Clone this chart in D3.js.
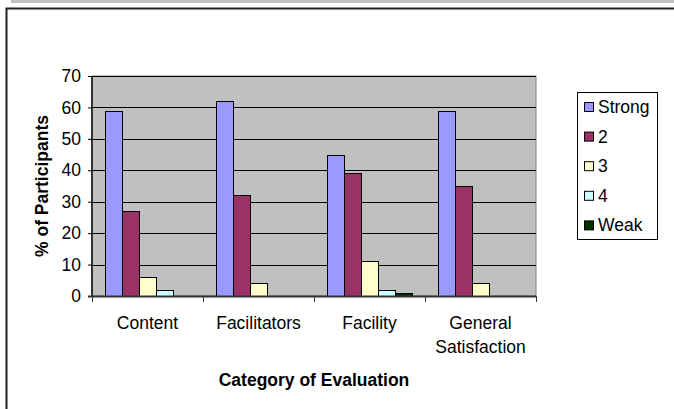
<!DOCTYPE html>
<html>
<head>
<meta charset="utf-8">
<script src="https://cdn.jsdelivr.net/npm/d3@7"></script>
<style>
  body { margin: 0; background: #fff; }
  svg { display: block; font-family: "Liberation Sans", Arial, sans-serif; }
</style>
</head>
<body>
<div id="chart"></div>
<script>
var categories = ['Content', 'Facilitators', 'Facility', 'General Satisfaction'];
var series = ['Strong', '2', '3', '4', 'Weak'];
var strong = [59, 62, 45, 59];
var two = [27, 32, 39, 35];
var three = [6, 4, 11, 4];
var four = [2, 0, 2, 0];
var weak = [0, 0, 1, 0];
var yTicks = [0, 10, 20, 30, 40, 50, 60, 70];
var colors = ['#9999ff', '#993366', '#ffffcc', '#ccffff', '#003300'];

var values = [strong, two, three, four, weak];

var width = 674,
    height = 409;
var plot = {left: 92, right: 536, top: 76, bottom: 296};
var fs = 17.5;

var svg = d3.select('#chart')
    .append('svg')
    .attr('width', width)
    .attr('height', height);

// outer frame
svg.append('rect').attr('x', 11).attr('y', 0).attr('width', 663).attr('height', 3).attr('fill', '#c0c0c0');
svg.append('path').attr('d', 'M6.5,409V8.5H674').attr('fill', 'none').attr('stroke', '#222').attr('stroke-width', 2);

var x0 = d3.scaleBand()
    .domain(categories)
    .range([plot.left, plot.right])
    .paddingInner(0)
    .paddingOuter(0);

var x1 = d3.scaleBand()
    .domain(series)
    .range([0, x0.bandwidth()])
    .paddingOuter(0.75)
    .paddingInner(0);

var y = d3.scaleLinear()
    .domain([0, 70])
    .range([plot.bottom, plot.top]);

svg.append('rect')
    .attr('x', plot.left).attr('y', plot.top)
    .attr('width', plot.right - plot.left).attr('height', plot.bottom - plot.top)
    .attr('fill', '#c0c0c0')
    .attr('stroke', '#808080');

// gridlines
svg.append('g').selectAll('line')
    .data(yTicks.filter(function(d) { return d > 0; }))
    .enter().append('line')
    .attr('x1', plot.left).attr('x2', plot.right)
    .attr('y1', function(d) { return Math.round(y(d)) + 0.5; })
    .attr('y2', function(d) { return Math.round(y(d)) + 0.5; })
    .attr('stroke', '#000');

// bars
var rows = [];
categories.forEach(function(c, i) {
    series.forEach(function(s, j) {
        rows.push({cat: c, s: s, v: values[j][i], color: colors[j]});
    });
});

svg.append('g').selectAll('rect')
    .data(rows.filter(function(d) { return d.v > 0; }))
    .enter().append('rect')
    .attr('x', function(d) { return Math.round(x0(d.cat) + x1(d.s)) + 0.5; })
    .attr('y', function(d) { return Math.round(y(d.v)) + 0.5; })
    .attr('width', function(d) { return Math.round(x1.bandwidth()); })
    .attr('height', function(d) { return Math.round(y(0)) - Math.round(y(d.v)); })
    .attr('fill', function(d) { return d.color; })
    .attr('stroke', '#000')
    .attr('stroke-width', 1);

// y axis
var yAxis = svg.append('g')
    .attr('transform', 'translate(' + plot.left + ',0)')
    .call(d3.axisLeft(y).tickValues(yTicks).tickSize(4).tickPadding(7));
yAxis.select('.domain').attr('stroke', '#333').attr('stroke-width', 2).attr('d', 'M0,' + plot.top + 'V' + plot.bottom);
yAxis.selectAll('.tick text').attr('font-size', fs).attr('fill', '#000').attr('font-family', '"Liberation Sans", Arial, sans-serif');
yAxis.selectAll('.tick line').attr('stroke', '#000');

// x axis
var xAxis = svg.append('g')
    .attr('transform', 'translate(0,' + plot.bottom + ')');
xAxis.append('line')
    .attr('x1', plot.left - 4).attr('x2', plot.right)
    .attr('y1', 0.5).attr('y2', 0.5)
    .attr('stroke', '#333').attr('stroke-width', 2);
var bounds = categories.map(function(c) { return x0(c); }).concat([plot.right]);
xAxis.selectAll('line.tk')
    .data(bounds)
    .enter().append('line')
    .attr('class', 'tk')
    .attr('x1', function(d) { return Math.round(d) + 0.5; })
    .attr('x2', function(d) { return Math.round(d) + 0.5; })
    .attr('y1', 0).attr('y2', 6)
    .attr('stroke', '#333');

var labels = xAxis.selectAll('text.cat')
    .data(categories)
    .enter().append('text')
    .attr('class', 'cat')
    .attr('x', function(d) { return x0(d) + x0.bandwidth() / 2; })
    .attr('y', 33)
    .attr('text-anchor', 'middle')
    .attr('font-size', fs);
labels.each(function(d) {
    var words = d.split(' ');
    var t = d3.select(this);
    words.forEach(function(w, i) {
        t.append('tspan')
            .attr('x', x0(d) + x0.bandwidth() / 2)
            .attr('dy', i === 0 ? 0 : 24)
            .text(w);
    });
});

// axis titles
svg.append('text')
    .attr('x', (plot.left + plot.right) / 2)
    .attr('y', 386)
    .attr('text-anchor', 'middle')
    .attr('font-size', fs)
    .attr('font-weight', 'bold')
    .text('Category of Evaluation');

svg.append('text')
    .attr('transform', 'translate(48,' + (plot.top + plot.bottom) / 2 + ') rotate(-90)')
    .attr('text-anchor', 'middle')
    .attr('font-size', fs)
    .attr('font-weight', 'bold')
    .text('% of Participants');

// legend
var legend = svg.append('g').attr('transform', 'translate(577,92)');
legend.append('rect')
    .attr('x', 0.5).attr('y', 0.5).attr('width', 80).attr('height', 147)
    .attr('fill', '#fff').attr('stroke', '#000');
var item = legend.selectAll('g.item')
    .data(series)
    .enter().append('g')
    .attr('class', 'item')
    .attr('transform', function(d, i) { return 'translate(0,' + (15 + i * 29.6) + ')'; });
item.append('rect')
    .attr('x', 7.5).attr('y', -4.5).attr('width', 9).attr('height', 9)
    .attr('fill', function(d, i) { return colors[i]; })
    .attr('stroke', '#000');
item.append('text')
    .attr('x', 21).attr('y', 6)
    .attr('font-size', fs)
    .text(function(d) { return d; });
</script>
</body>
</html>
